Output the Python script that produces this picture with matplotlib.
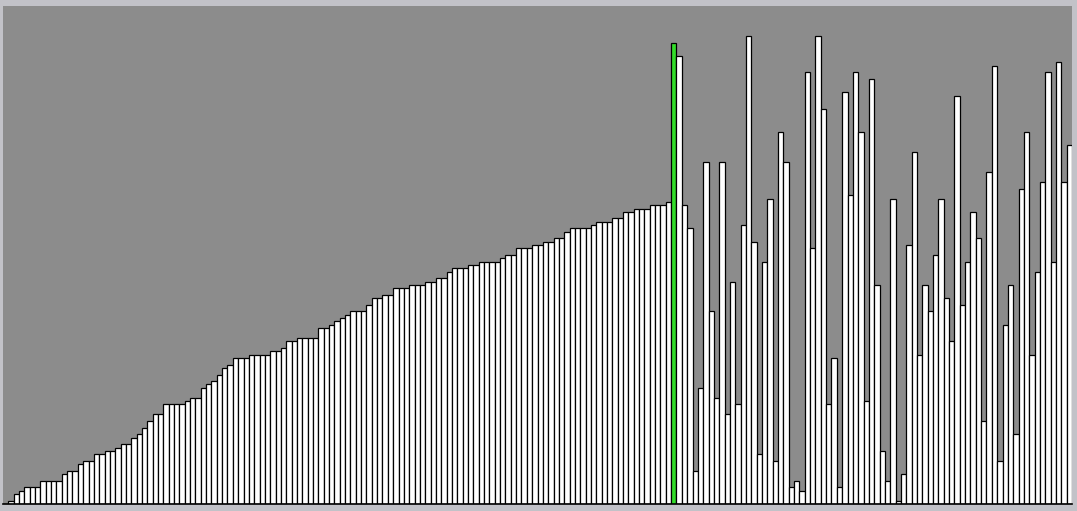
import matplotlib

matplotlib.use("Agg")
import matplotlib.pyplot as plt
import numpy as np

# bar heights, left to right (index 125 is the highlighted one)
values = [
    0, 1, 3, 4, 5, 5, 5, 7, 7, 7,
    7, 9, 10, 10, 12, 13, 13, 15, 15, 16,
    16, 17, 18, 18, 20, 21, 23, 25, 27, 27,
    30, 30, 30, 30, 31, 32, 32, 35, 36, 37,
    39, 41, 42, 44, 44, 44, 45, 45, 45, 45,
    46, 46, 47, 49, 49, 50, 50, 50, 50, 53,
    53, 54, 55, 56, 57, 58, 58, 58, 60, 62,
    62, 63, 63, 65, 65, 65, 66, 66, 66, 67,
    67, 68, 68, 70, 71, 71, 71, 72, 72, 73,
    73, 73, 73, 74, 75, 75, 77, 77, 77, 78,
    78, 79, 79, 80, 80, 82, 83, 83, 83, 83,
    84, 85, 85, 85, 86, 86, 88, 88, 89, 89,
    89, 90, 90, 90, 91, 139, 135, 90, 83, 10,
    35, 103, 58, 32, 103, 27, 67, 30, 84, 141,
    79, 15, 73, 92, 13, 112, 103, 5, 7, 4,
    130, 77, 141, 119, 30, 44, 5, 124, 93, 130,
    112, 31, 128, 66, 16, 7, 92, 1, 9, 78,
    106, 45, 66, 58, 75, 92, 62, 49, 123, 60,
    73, 88, 80, 25, 100, 132, 13, 54, 66, 21,
    95, 112, 45, 70, 97, 130, 73, 133, 97, 108,
]
highlight = 125
y_max = 150

W, H = 1077, 511
fig = plt.figure(figsize=(W / 100, H / 100), dpi=100)
fig.patch.set_facecolor("#c2c2c8")
ax = fig.add_axes([3 / W, 7 / H, 1069 / W, 498 / H])
ax.set_facecolor("#8c8c8c")

x = np.arange(len(values))
colors = ["white"] * len(values)
colors[highlight] = "#33dd2a"
ax.bar(x, values, width=1.0, align="edge", color=colors,
       edgecolor="black", linewidth=0.9)

ax.set_xlim(0, len(values))
ax.set_ylim(0, y_max)
ax.set_xticks([])
ax.set_yticks([])
for side in ("top", "left", "right"):
    ax.spines[side].set_visible(False)
ax.spines["bottom"].set_color("black")
ax.spines["bottom"].set_linewidth(1.2)

fig.savefig("out.png", dpi=100, facecolor=fig.get_facecolor())
